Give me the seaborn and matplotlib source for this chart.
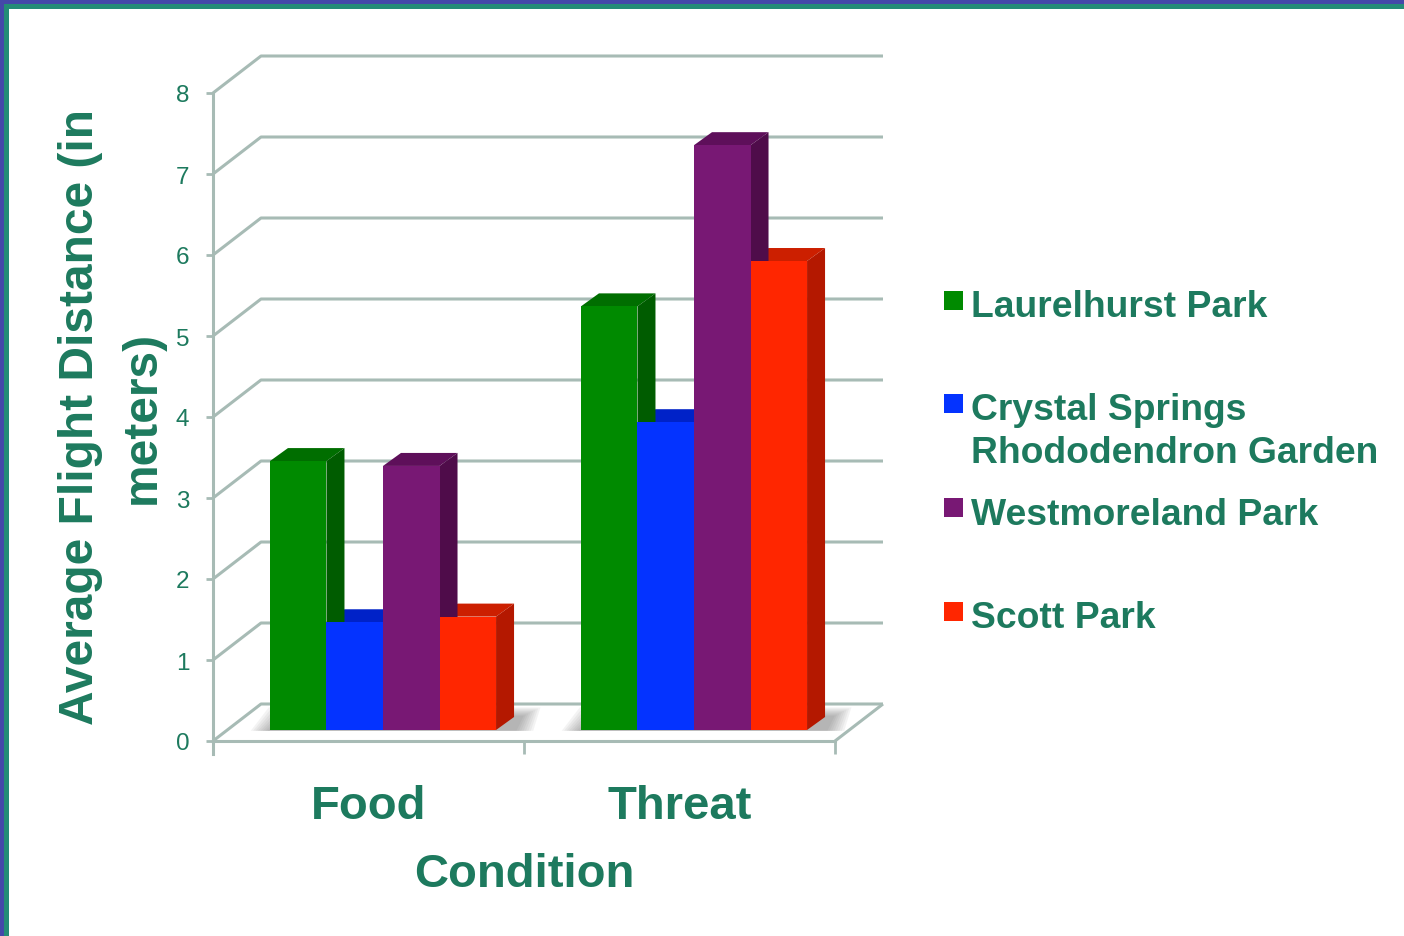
import numpy as np
import pandas as pd
import seaborn as sns
import matplotlib
matplotlib.use("Agg")
import matplotlib.pyplot as plt
from matplotlib.patches import Polygon, Rectangle

# ---------------- data ----------------
conditions = ["Food", "Threat"]
parks = ["Laurelhurst Park", "Crystal Springs\nRhododendron Garden",
         "Westmoreland Park", "Scott Park"]
food_values = [3.32, 1.33, 3.26, 1.40]
threat_values = [5.23, 3.80, 7.22, 5.79]
y_ticks = [0, 1, 2, 3, 4, 5, 6, 7, 8]
y_label = "Average Flight Distance (in\nmeters)"
x_label = "Condition"

# ---------------- style ----------------
front_colors = ["#008a00", "#0433ff", "#781874", "#ff2600"]
side_colors = ["#005c00", "#0020b4", "#4f0c4a", "#b41800"]
top_colors = ["#006e00", "#0022c8", "#5e0f5a", "#cc1f00"]
text_color = "#1d7a5e"
grid_color = "#a7bbb5"

sns.set_theme(style="white")
plt.rcParams["font.family"] = ["Liberation Sans", "DejaVu Sans"]

df = pd.DataFrame({
    "Condition": np.repeat(conditions, len(parks)),
    "Park": parks * len(conditions),
    "Distance": food_values + threat_values,
})

W, H = 1404, 937
fig = plt.figure(figsize=(W / 100, H / 100), dpi=100)
# axes box in pixels (left, right, top, bottom)
L, R, T, B = 150, 900, 40, 760
ax = fig.add_axes([L / W, (H - B) / H, (R - L) / W, (B - T) / H])

sns.barplot(data=df, x="Condition", y="Distance", hue="Park",
            palette=front_colors, saturation=1, width=0.727, dodge=True,
            legend=False, linewidth=0, ax=ax, zorder=3, errorbar=None)

# pixel scale: 311 px per category, 81 px per unit
PX, PY = 1 / 311, 1 / 81
ax.set_xlim((L - 383) * PX, (R - 383) * PX)
ax.set_ylim((731 - B) * PY, (731 - T) * PY)

FRONT = (-14.5 * PX, -11 * PY)   # front edge offset from bar plane
BACK = (33.5 * PX, 26 * PY)      # back wall offset from bar plane
DEPTH = (18 * PX, 13 * PY)       # bar depth

x_left, x_right = -0.5, len(conditions) - 0.5

# back wall + side wall grid lines
for t in y_ticks:
    ax.plot([x_left + FRONT[0], x_left + BACK[0], x_right + BACK[0]],
            [t + FRONT[1], t + BACK[1], t + BACK[1]],
            color=grid_color, lw=2.2, zorder=1, solid_capstyle="butt")
ax.plot([x_right + FRONT[0], x_right + BACK[0]], [FRONT[1], BACK[1]],
        color=grid_color, lw=2.2, zorder=1, solid_capstyle="butt")

# 3D faces
dx, dy = DEPTH
for i, cont in enumerate(ax.containers):
    for bar in cont:
        x0, w, h = bar.get_x(), bar.get_width(), bar.get_height()
        x1 = x0 + w
        top = Polygon([(x0, h), (x1, h), (x1 + dx, h + dy), (x0 + dx, h + dy)],
                      closed=True, facecolor=top_colors[i], edgecolor="none", zorder=2.2)
        side = Polygon([(x1, 0), (x1, h), (x1 + dx, h + dy), (x1 + dx, dy)],
                       closed=True, facecolor=side_colors[i], edgecolor="none", zorder=2.4)
        ax.add_patch(top)
        ax.add_patch(side)

# soft floor shadow under each group of bars
for j in range(len(conditions)):
    gx0 = min(c[j].get_x() for c in ax.containers)
    gx1 = max(c[j].get_x() + c[j].get_width() for c in ax.containers)
    for k in range(8):
        ex = (8 - k) * 2.4 * PX
        ey = (8 - k) * 1.2 * PY
        shp = Polygon([(gx0 - ex, -0.01), (gx1 + dx + ex, -0.01),
                       (gx1 + dx + ex + dx * 0.4, dy + ey),
                       (gx0 + dx - ex, dy + ey)],
                      closed=True, facecolor="#606060", edgecolor="none",
                      alpha=0.07, zorder=1.5)
        ax.add_patch(shp)

# spines
for s in ["top", "right"]:
    ax.spines[s].set_visible(False)
ax.spines["left"].set_position(("axes", (213 - L) / (R - L)))
ax.spines["left"].set_bounds(FRONT[1] - 13 * PY, y_ticks[-1] + FRONT[1])
ax.spines["left"].set_color(grid_color)
ax.spines["left"].set_linewidth(2.2)
ax.spines["bottom"].set_position(("data", FRONT[1]))
ax.spines["bottom"].set_bounds(x_left + FRONT[0], x_right + FRONT[0])
ax.spines["bottom"].set_color(grid_color)
ax.spines["bottom"].set_linewidth(2.2)
for s in ["left", "bottom"]:
    ax.spines[s].set_zorder(2)

ax.set_yticks([t + FRONT[1] for t in y_ticks], labels=[str(t) for t in y_ticks])
ax.tick_params(axis="y", length=5, width=2, color=grid_color, labelcolor=text_color,
               labelsize=17.5, pad=12, left=True)
ax.set_xticks([i + FRONT[0] for i in range(len(conditions))], labels=conditions)
ax.set_xticks([b + FRONT[0] for b in np.arange(len(conditions) + 1) - 0.5], minor=True)
ax.tick_params(axis="x", which="major", length=0, labelcolor=text_color,
               labelsize=34, pad=31)
ax.tick_params(axis="x", which="minor", length=9.4, width=2, color=grid_color,
               bottom=True, direction="out")
for lab in ax.get_xticklabels():
    lab.set_fontweight("bold")

ax.set_xlabel(x_label, fontsize=34, fontweight="bold", color=text_color)
ax.xaxis.set_label_coords((524 - L) / (R - L), (B - 887) / (B - T))
ax.xaxis.label.set_va("baseline")
ax.set_ylabel(y_label, fontsize=34.5, fontweight="bold", color=text_color,
              linespacing=1.48, multialignment="center")
ax.yaxis.set_label_coords((111 - L) / (R - L), (B - 417) / (B - T))
ax.yaxis.label.set_va("center")
ax.set_facecolor("none")

# legend (manual, evenly spaced like the original)
leg_sq = [301, 404, 508, 612]
leg_first_base = [317, 420, 525, 628]
leg_line_gap = 43
for i, name in enumerate(parks):
    fig.patches.append(Rectangle((944 / W, 1 - (leg_sq[i] + 9.5) / H), 19 / W, 19 / H,
                                 transform=fig.transFigure, facecolor=front_colors[i],
                                 edgecolor="none"))
    last_base = leg_first_base[i] + leg_line_gap * name.count("\n")
    fig.text(971 / W, 1 - last_base / H, name, fontsize=26.8, fontweight="bold",
             color=text_color, va="baseline", ha="left", linespacing=1.31)

# slide border
fig.patches.append(Rectangle((0, 1 - 5 / H), 1, 5 / H, transform=fig.transFigure,
                             facecolor="#4448a9", edgecolor="none", zorder=5))
fig.patches.append(Rectangle((4 / W, 1 - 10 / H), 1, 5 / H, transform=fig.transFigure,
                             facecolor="#248c77", edgecolor="none", zorder=5))
fig.patches.append(Rectangle((0, 0), 4 / W, 1, transform=fig.transFigure,
                             facecolor="#4448a9", edgecolor="none", zorder=5))
fig.patches.append(Rectangle((4 / W, 0), 5 / W, 1 - 5 / H, transform=fig.transFigure,
                             facecolor="#248c77", edgecolor="none", zorder=5))

fig.savefig("out.png", dpi=100, facecolor="white")
